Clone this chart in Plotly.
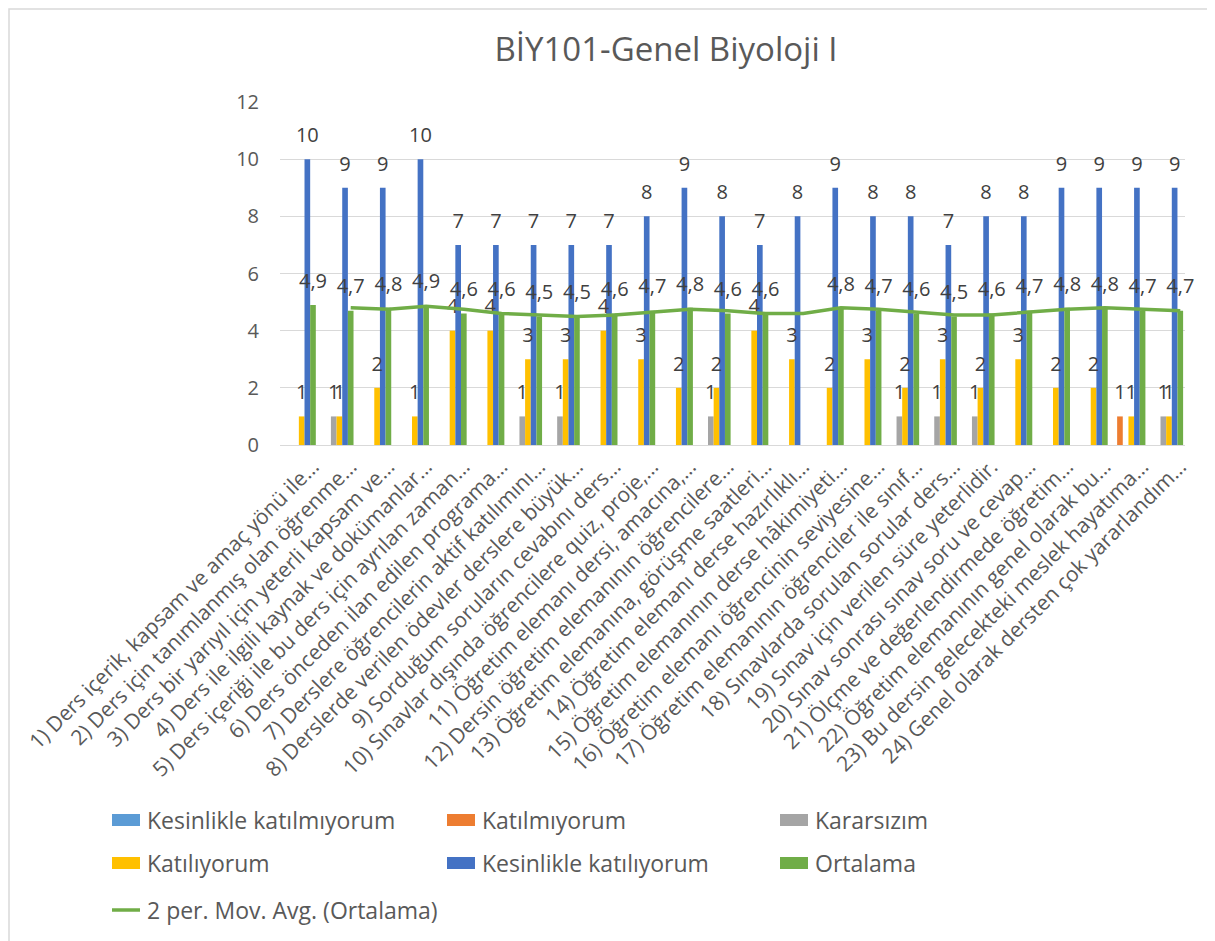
import plotly.graph_objects as go

categories = [
    "1) Ders içerik, kapsam ve amaç yönü ile…",
    "2) Ders için tanımlanmış olan öğrenme…",
    "3) Ders bir yarıyıl için yeterli kapsam ve…",
    "4) Ders ile ilgili kaynak ve dokümanlar…",
    "5) Ders içeriği ile bu ders için ayrılan zaman…",
    "6) Ders önceden ilan edilen programa…",
    "7) Derslere öğrencilerin aktif katılımını…",
    "8) Derslerde verilen ödevler derslere büyük…",
    "9) Sorduğum soruların cevabını ders…",
    "10) Sınavlar dışında öğrencilere quiz, proje,…",
    "11) Öğretim elemanı dersi, amacına,…",
    "12) Dersin öğretim elemanının öğrencilere…",
    "13) Öğretim elemanına, görüşme saatleri…",
    "14) Öğretim elemanı derse hazırlıklı…",
    "15) Öğretim elemanının derse hâkimiyeti…",
    "16) Öğretim elemanı öğrencinin seviyesine…",
    "17) Öğretim elemanının öğrenciler ile sınıf…",
    "18) Sınavlarda sorulan sorular ders…",
    "19) Sınav için verilen süre yeterlidir.",
    "20) Sınav sonrası sınav soru ve cevap…",
    "21) Ölçme ve değerlendirmede öğretim…",
    "22) Öğretim elemanının genel olarak bu…",
    "23) Bu dersin gelecekteki meslek hayatıma…",
    "24) Genel olarak dersten çok yararlandım…",
]

kesinlikle_katilmiyorum = [0, 0, 0, 0, 0, 0, 0, 0, 0, 0, 0, 0,
                           0, 0, 0, 0, 0, 0, 0, 0, 0, 0, 0, 0]
katilmiyorum = [0, 0, 0, 0, 0, 0, 0, 0, 0, 0, 0, 0,
                0, 0, 0, 0, 0, 0, 0, 0, 0, 0, 1, 0]
kararsizim = [0, 1, 0, 0, 0, 0, 1, 1, 0, 0, 0, 1,
              0, 0, 0, 0, 1, 1, 1, 0, 0, 0, 0, 1]
katiliyorum = [1, 1, 2, 1, 4, 4, 3, 3, 4, 3, 2, 2,
               4, 3, 2, 3, 2, 3, 2, 3, 2, 2, 1, 1]
kesinlikle_katiliyorum = [10, 9, 9, 10, 7, 7, 7, 7, 7, 8, 9, 8,
                          7, 8, 9, 8, 8, 7, 8, 8, 9, 9, 9, 9]
ortalama = [4.9, 4.7, 4.8, 4.9, 4.6, 4.6, 4.5, 4.5, 4.6, 4.7, 4.8, 4.6,
            4.6, None, 4.8, 4.7, 4.6, 4.5, 4.6, 4.7, 4.8, 4.8, 4.7, 4.7]
hareketli_ortalama = [None, 4.8, 4.75, 4.85, 4.75, 4.6, 4.55, 4.5, 4.55, 4.65, 4.75, 4.7,
                      4.6, 4.6, 4.8, 4.75, 4.65, 4.55, 4.55, 4.65, 4.75, 4.8, 4.75, 4.7]

series = [
    ("Kesinlikle katılmıyorum", kesinlikle_katilmiyorum, "#5B9BD5"),
    ("Katılmıyorum", katilmiyorum, "#ED7D31"),
    ("Kararsızım", kararsizim, "#A5A5A5"),
    ("Katılıyorum", katiliyorum, "#FFC000"),
    ("Kesinlikle katılıyorum", kesinlikle_katiliyorum, "#4472C4"),
    ("Ortalama", ortalama, "#70AD47"),
]
ma_name = "2 per. Mov. Avg. (Ortalama)"
ma_color = "#70AD47"

FONT = "Open Sans"
TXT = "#595959"
LBL = "#404040"
GAP = 0.1
OFF = 8  # page body margin


def fmt(v):
    if v is None or v == 0:
        return ""
    if float(v).is_integer():
        return str(int(v))
    return str(v).replace(".", ",")


fig = go.Figure()

for i, (name, vals, col) in enumerate(series):
    fig.add_trace(go.Bar(
        x=categories, y=vals, name=name, marker=dict(color=col, line=dict(width=0)),
        offsetgroup=f"g{i}", showlegend=False, hoverinfo="y+name",
    ))

for i, (name, vals, col) in enumerate(series):
    fig.add_trace(go.Scatter(
        x=categories, y=vals, mode="markers+text", text=[fmt(v) for v in vals],
        textposition="top center", textfont=dict(family=FONT, size=20, color=LBL),
        marker=dict(size=18, opacity=0), offsetgroup=f"g{i}", orientation="v",
        showlegend=False, hoverinfo="skip", cliponaxis=False,
    ))

fig.add_trace(go.Scatter(
    x=categories, y=hareketli_ortalama, mode="lines", name=ma_name,
    line=dict(color=ma_color, width=3.5), offsetgroup="g5", orientation="v",
    showlegend=False, hoverinfo="y+name",
))

# page geometry (absolute reference pixels)
W, H = 1215 - OFF, 941 - OFF
PL, PR, PT, PB = 280, 1185, 102, 445
L, R, T, B = PL - OFF, W - (PR - OFF), PT - OFF, H - (PB - OFF)
PW, PH = W - L - R, H - T - B


def px_x(x):
    return (x - OFF - L) / PW


def px_y(y):
    return (PB - y) / PH


# legend drawn as swatches + text
shapes = [dict(type="rect", xref="paper", yref="paper",
               x0=px_x(9), x1=px_x(1213), y0=px_y(945), y1=px_y(9),
               line=dict(color="#D9D9D9", width=1.5), fillcolor="rgba(0,0,0,0)",
               layer="below")]
annotations = []
leg_cols = [112, 447, 780]
leg_rows = [820, 863]
for k, (name, vals, col) in enumerate(series):
    cx = leg_cols[k % 3]
    cy = leg_rows[k // 3]
    shapes.append(dict(type="rect", xref="paper", yref="paper",
                       x0=px_x(cx), x1=px_x(cx + 28), y0=px_y(cy + 6), y1=px_y(cy - 6),
                       fillcolor=col, line=dict(width=0)))
    annotations.append(dict(text=name, xref="paper", yref="paper", x=px_x(cx + 33), y=px_y(cy),
                            xanchor="left", yanchor="middle", showarrow=False,
                            font=dict(family=FONT, size=23, color=TXT)))
shapes.append(dict(type="line", xref="paper", yref="paper",
                   x0=px_x(112), x1=px_x(140), y0=px_y(910), y1=px_y(910),
                   line=dict(color=ma_color, width=3.5)))
annotations.append(dict(text=ma_name, xref="paper", yref="paper", x=px_x(145), y=px_y(910),
                        xanchor="left", yanchor="middle", showarrow=False,
                        font=dict(family=FONT, size=23, color=TXT)))

fig.update_layout(
    width=W, height=H,
    margin=dict(l=L, r=R, t=T, b=B, autoexpand=False),
    paper_bgcolor="white", plot_bgcolor="white",
    font=dict(family=FONT, color=TXT),
    showlegend=False,
    title=dict(text="BİY101-Genel Biyoloji I", x=(666 - OFF) / W, xref="container",
               xanchor="center", y=1 - (49 - OFF) / H, yref="container", yanchor="middle",
               font=dict(family=FONT, size=33, color=TXT)),
    barmode="group", bargap=GAP, bargroupgap=0,
    scattermode="group", scattergap=GAP,
    xaxis=dict(type="category", tickangle=-45, tickfont=dict(family=FONT, size=21, color=TXT),
               showgrid=False, showline=True, linecolor="#D9D9D9", linewidth=1.3,
               ticks="", zeroline=False, automargin=False, ticklabelshift=14),
    yaxis=dict(range=[0, 12], dtick=2, tickfont=dict(family=FONT, size=20, color=TXT),
               showgrid=True, gridcolor="#D9D9D9", gridwidth=1.3, zeroline=False,
               showline=False, ticks="", ticklabelstandoff=20, automargin=False),
    shapes=shapes,
    annotations=annotations,
)

fig.write_html("out.html")
